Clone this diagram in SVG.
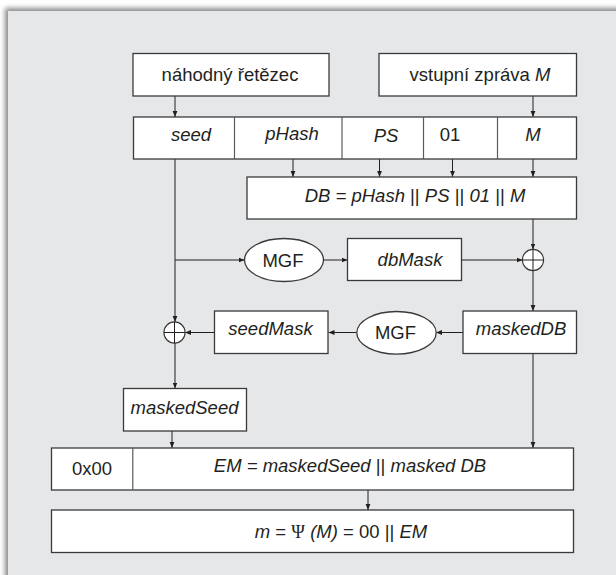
<svg xmlns="http://www.w3.org/2000/svg" width="616" height="575" viewBox="0 0 616 575">
<defs>
<filter id="sh" x="-5%" y="-5%" width="110%" height="110%"><feGaussianBlur stdDeviation="2.5"/></filter>
<marker id="ah" viewBox="0 0 10 10" refX="10" refY="5" markerWidth="6" markerHeight="6" markerUnits="userSpaceOnUse" orient="auto"><path d="M0,1 L10,5 L0,9 z" fill="#231f20"/></marker>
</defs>
<style>
.b{fill:#fff;stroke:#3a3a3a;stroke-width:1.3}
.c{fill:none;stroke:#231f20;stroke-width:1}
.d{stroke:#5a5a5a;stroke-width:1.2}
.a{marker-end:url(#ah)}
text{font-family:"Liberation Sans",Arial,sans-serif;font-size:18.5px;fill:#231f20;text-anchor:middle}
.i{font-style:italic}
.u{font-style:normal}
.s{font-family:"Liberation Serif","Times New Roman",serif}
</style>
<rect x="0" y="0" width="616" height="575" fill="#fff"/>
<rect x="5" y="8" width="640" height="600" fill="#8a8a8a" filter="url(#sh)"/>
<rect x="8" y="11" width="620" height="580" fill="#e6e7e9"/>

<g id="connectors">
<line class="c a" x1="175" y1="96" x2="175" y2="117"/>
<line class="c a" x1="533" y1="96" x2="533" y2="117"/>
<line class="c a" x1="293" y1="159" x2="293" y2="177"/>
<line class="c a" x1="379.5" y1="159" x2="379.5" y2="177"/>
<line class="c a" x1="452.5" y1="159" x2="452.5" y2="177"/>
<line class="c a" x1="533" y1="159" x2="533" y2="177"/>
<line class="c a" x1="175" y1="159" x2="175" y2="322"/>
<line class="c a" x1="175" y1="260" x2="244.5" y2="260"/>
<line class="c a" x1="323.5" y1="260" x2="347.5" y2="260"/>
<line class="c a" x1="461.5" y1="260" x2="522.5" y2="260"/>
<line class="c a" x1="533" y1="219" x2="533" y2="249.5"/>
<line class="c a" x1="533" y1="270.5" x2="533" y2="311"/>
<line class="c a" x1="463" y1="332.5" x2="436" y2="332.5"/>
<line class="c a" x1="356.5" y1="332.5" x2="328.5" y2="332.5"/>
<line class="c a" x1="214.5" y1="332.5" x2="185" y2="332.5"/>
<line class="c a" x1="175" y1="343" x2="175" y2="388.5"/>
<line class="c a" x1="172" y1="431" x2="172" y2="448"/>
<line class="c a" x1="533" y1="353.5" x2="533" y2="448"/>
<line class="c a" x1="368" y1="490" x2="368" y2="510"/>
</g>

<g id="n-random"><rect class="b" x="133" y="53.5" width="196" height="42.5"/><text x="230" y="81">náhodný řetězec</text></g>
<g id="n-message"><rect class="b" x="379" y="53.5" width="197.5" height="42.5"/><text x="480" y="81">vstupní zpráva <tspan class="i">M</tspan></text></g>

<g id="n-row">
<rect class="b" x="133.5" y="117" width="443" height="42"/>
<line class="d" x1="234.5" y1="117" x2="234.5" y2="159"/>
<line class="d" x1="342" y1="117" x2="342" y2="159"/>
<line class="d" x1="423.5" y1="117" x2="423.5" y2="159"/>
<line class="d" x1="497.5" y1="117" x2="497.5" y2="159"/>
<text class="i" x="191" y="141">seed</text>
<text class="i" x="292" y="140">pHash</text>
<text class="i" x="386" y="142">PS</text>
<text x="450" y="140.5">01</text>
<text class="i" x="533" y="140.5">M</text>
</g>

<g id="n-db"><rect class="b" x="247" y="177" width="329.5" height="42"/><text class="i" x="415" y="202">DB = pHash <tspan class="u">||</tspan> PS <tspan class="u">||</tspan> 01 <tspan class="u">||</tspan> M</text></g>

<g id="n-mgf1"><ellipse class="b" cx="284" cy="260" rx="39.5" ry="21.5"/><text x="283" y="266.5">MGF</text></g>
<g id="n-dbmask"><rect class="b" x="347.5" y="238.5" width="114" height="42"/><text class="i" x="410" y="266">dbMask</text></g>
<g id="n-xor1"><circle class="b" cx="533" cy="260" r="10.6" style="stroke-width:1.1"/><line class="c" x1="522.4" y1="260" x2="543.6" y2="260"/><line class="c" x1="533" y1="249.4" x2="533" y2="270.6"/></g>
<g id="n-maskeddb"><rect class="b" x="463" y="311" width="113.5" height="42.5"/><text class="i" x="521" y="335">maskedDB</text></g>
<g id="n-mgf2"><ellipse class="b" cx="396.5" cy="332.8" rx="39.7" ry="21.3"/><text x="395.5" y="339.3">MGF</text></g>
<g id="n-seedmask"><rect class="b" x="214.5" y="311" width="113.5" height="42.5"/><text class="i" x="270.5" y="334.5">seedMask</text></g>
<g id="n-xor2"><circle class="b" cx="174.5" cy="332.5" r="10.6" style="stroke-width:1.1"/><line class="c" x1="163.9" y1="332.5" x2="185.1" y2="332.5"/><line class="c" x1="174.5" y1="321.9" x2="174.5" y2="343.1"/></g>
<g id="n-maskedseed"><rect class="b" x="123.5" y="388.5" width="123" height="42.5"/><text class="i" x="184.5" y="413.5">maskedSeed</text></g>

<g id="n-em">
<rect class="b" x="51.5" y="448" width="522" height="42"/>
<line class="d" x1="132.8" y1="448" x2="132.8" y2="490"/>
<text x="92" y="475">0x00</text>
<text class="i" x="350" y="472">EM = maskedSeed <tspan class="u">||</tspan> masked DB</text>
</g>
<g id="n-m"><rect class="b" x="51.5" y="510" width="522" height="42.5"/><text x="341" y="537.5"><tspan class="i">m</tspan> = <tspan class="s">Ψ</tspan> <tspan class="i">(M)</tspan> = 00 || <tspan class="i">EM</tspan></text></g>
</svg>
